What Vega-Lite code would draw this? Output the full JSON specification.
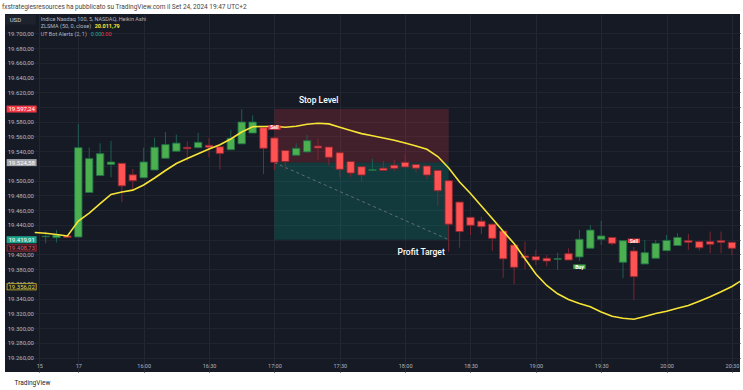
{
  "$schema": "https://vega.github.io/schema/vega-lite/v6.json",
  "width": 735,
  "height": 358,
  "autosize": {"type": "none"},
  "padding": {"left": 5, "top": 14, "right": 3, "bottom": 18},
  "background": "#ffffff",
  "view": {"fill": "#161a25", "stroke": null},
  "title": {"text": "fxstrategiesresources ha pubblicato su TradingView.com il Set 24, 2024 19:47 UTC+2", "anchor": "start", "frame": "group", "fontSize": 6.5, "font": "Roboto", "fontWeight": "normal", "color": "#444444", "offset": 3.5, "dx": -3},
  "config": {"font": "Roboto", "axis": {"labelOverlap": false, "labelSeparation": 0}, "axisY": {"labelOverlap": false}},
  "datasets": {
    "candles": [
      {"i":-3,"o":19424,"h":19431,"l":19415,"c":19424.6,"dir":"up"},
      {"i":-2,"o":19422.7,"h":19433,"l":19416,"c":19426.3,"dir":"up"},
      {"i":-1,"o":19425,"h":19425.5,"l":19422.5,"c":19423,"dir":"down"},
      {"i":0,"o":19423.6,"h":19577,"l":19423,"c":19544.8,"dir":"up"},
      {"i":1,"o":19484,"h":19545,"l":19484,"c":19530,"dir":"up"},
      {"i":2,"o":19507,"h":19550.7,"l":19507,"c":19536.7,"dir":"up"},
      {"i":3,"o":19522,"h":19554,"l":19504.6,"c":19525.4,"dir":"up"},
      {"i":4,"o":19523.6,"h":19523.6,"l":19470.7,"c":19493,"dir":"down"},
      {"i":5,"o":19508,"h":19516,"l":19488,"c":19500,"dir":"down"},
      {"i":6,"o":19504,"h":19544.8,"l":19504,"c":19525.4,"dir":"up"},
      {"i":7,"o":19514.5,"h":19558.3,"l":19514.5,"c":19545.3,"dir":"up"},
      {"i":8,"o":19530.4,"h":19566,"l":19530.4,"c":19549,"dir":"up"},
      {"i":9,"o":19540,"h":19562.5,"l":19540,"c":19551,"dir":"up"},
      {"i":10,"o":19545.3,"h":19553.5,"l":19526.7,"c":19543.4,"dir":"down"},
      {"i":11,"o":19544.8,"h":19565,"l":19544.8,"c":19552,"dir":"up"},
      {"i":12,"o":19548,"h":19558,"l":19531.7,"c":19545.3,"dir":"down"},
      {"i":13,"o":19546,"h":19546,"l":19515.5,"c":19537,"dir":"down"},
      {"i":14,"o":19542,"h":19569,"l":19542,"c":19557.5,"dir":"up"},
      {"i":15,"o":19550,"h":19597,"l":19550,"c":19579.6,"dir":"up"},
      {"i":16,"o":19564.7,"h":19588.7,"l":19564.7,"c":19579.6,"dir":"up"},
      {"i":17,"o":19572,"h":19573,"l":19509,"c":19544,"dir":"down"},
      {"i":18,"o":19558,"h":19560,"l":19514.5,"c":19525,"dir":"down"},
      {"i":19,"o":19541,"h":19541,"l":19514.5,"c":19526,"dir":"down"},
      {"i":20,"o":19534.5,"h":19551,"l":19534.5,"c":19544,"dir":"up"},
      {"i":21,"o":19539,"h":19562,"l":19539,"c":19554.3,"dir":"up"},
      {"i":22,"o":19547,"h":19557.5,"l":19528,"c":19544.4,"dir":"down"},
      {"i":23,"o":19545.7,"h":19545.7,"l":19521.3,"c":19531.7,"dir":"down"},
      {"i":24,"o":19538,"h":19538,"l":19504.6,"c":19515.5,"dir":"down"},
      {"i":25,"o":19526,"h":19526,"l":19505.4,"c":19510.4,"dir":"down"},
      {"i":26,"o":19519,"h":19519,"l":19498.6,"c":19507.7,"dir":"down"},
      {"i":27,"o":19514,"h":19529.5,"l":19513,"c":19515,"dir":"up"},
      {"i":28,"o":19517,"h":19526.7,"l":19514,"c":19514,"dir":"down"},
      {"i":29,"o":19521,"h":19528,"l":19513,"c":19516.8,"dir":"down"},
      {"i":30,"o":19525,"h":19536,"l":19518.6,"c":19518.6,"dir":"down"},
      {"i":31,"o":19522,"h":19522,"l":19511.4,"c":19517,"dir":"down"},
      {"i":32,"o":19520,"h":19520,"l":19502,"c":19507.7,"dir":"down"},
      {"i":33,"o":19514,"h":19514,"l":19466,"c":19486.4,"dir":"down"},
      {"i":34,"o":19500,"h":19500,"l":19403.7,"c":19441,"dir":"down"},
      {"i":35,"o":19471,"h":19471,"l":19409,"c":19431,"dir":"down"},
      {"i":36,"o":19450.3,"h":19450.3,"l":19426.3,"c":19439.5,"dir":"down"},
      {"i":37,"o":19445,"h":19451,"l":19427.7,"c":19437.6,"dir":"down"},
      {"i":38,"o":19441,"h":19441,"l":19405,"c":19421.8,"dir":"down"},
      {"i":39,"o":19431.7,"h":19431.7,"l":19368.4,"c":19394,"dir":"down"},
      {"i":40,"o":19412.7,"h":19412.7,"l":19359.4,"c":19382.5,"dir":"down"},
      {"i":41,"o":19397.8,"h":19417.3,"l":19379.8,"c":19395.5,"dir":"down"},
      {"i":42,"o":19397,"h":19406,"l":19385.6,"c":19392.4,"dir":"down"},
      {"i":43,"o":19394.7,"h":19399,"l":19384,"c":19391,"dir":"down"},
      {"i":44,"o":19393.4,"h":19402.3,"l":19379,"c":19394.2,"dir":"up"},
      {"i":45,"o":19401,"h":19408.3,"l":19392.4,"c":19392.4,"dir":"down"},
      {"i":46,"o":19396.5,"h":19433,"l":19391,"c":19420.5,"dir":"up"},
      {"i":47,"o":19408.3,"h":19440,"l":19408.3,"c":19433,"dir":"up"},
      {"i":48,"o":19420.5,"h":19445.3,"l":19412.7,"c":19425,"dir":"up"},
      {"i":49,"o":19423,"h":19423,"l":19412,"c":19415,"dir":"down"},
      {"i":50,"o":19389.3,"h":19418.6,"l":19367.6,"c":19418.6,"dir":"up"},
      {"i":51,"o":19404.6,"h":19410,"l":19338,"c":19369.8,"dir":"down"},
      {"i":52,"o":19387,"h":19419.6,"l":19387,"c":19402.3,"dir":"up"},
      {"i":53,"o":19394.7,"h":19419.6,"l":19394.7,"c":19415,"dir":"up"},
      {"i":54,"o":19405,"h":19426.3,"l":19405,"c":19419,"dir":"up"},
      {"i":55,"o":19412,"h":19428.6,"l":19412,"c":19423,"dir":"up"},
      {"i":56,"o":19418.6,"h":19427.7,"l":19406,"c":19416.4,"dir":"down"},
      {"i":57,"o":19417.3,"h":19417.3,"l":19405,"c":19409,"dir":"down"},
      {"i":58,"o":19417.3,"h":19431,"l":19401.5,"c":19413.8,"dir":"down"},
      {"i":59,"o":19418.6,"h":19431,"l":19401.5,"c":19416.4,"dir":"down"},
      {"i":60,"o":19416.4,"h":19416.4,"l":19399,"c":19408.3,"dir":"down"}
    ],
    "zlsma": [
      {"i":-4,"v":19429.7},{"i":-3,"v":19428.6},{"i":-2,"v":19427.0},{"i":-1,"v":19425.0},
      {"i":0,"v":19445.3},{"i":1,"v":19455.9},{"i":2,"v":19468.8},{"i":3,"v":19481.3},
      {"i":4,"v":19484.7},{"i":5,"v":19487.2},{"i":6,"v":19494.2},{"i":7,"v":19503.7},
      {"i":8,"v":19513.8},{"i":9,"v":19523.3},{"i":10,"v":19530.1},{"i":11,"v":19536.6},
      {"i":12,"v":19543.0},{"i":13,"v":19548.8},{"i":14,"v":19556.6},{"i":15,"v":19566.1},
      {"i":16,"v":19573.3},{"i":17,"v":19573.5},{"i":18,"v":19573.9},{"i":19,"v":19572.5},
      {"i":20,"v":19573.8},{"i":21,"v":19576.5},{"i":22,"v":19577.9},{"i":23,"v":19577.1},
      {"i":24,"v":19572.6},{"i":25,"v":19568.1},{"i":26,"v":19563.9},{"i":27,"v":19560.9},
      {"i":28,"v":19557.9},{"i":29,"v":19554.9},{"i":30,"v":19551.1},{"i":31,"v":19547.1},
      {"i":32,"v":19542.6},{"i":33,"v":19532.8},{"i":34,"v":19517.2},{"i":35,"v":19498.2},
      {"i":36,"v":19482.6},{"i":37,"v":19465.7},{"i":38,"v":19448.7},{"i":39,"v":19431.3},
      {"i":40,"v":19414.8},{"i":41,"v":19394.0},{"i":42,"v":19373.4},{"i":43,"v":19357.8},
      {"i":44,"v":19346.5},{"i":45,"v":19338.8},{"i":46,"v":19333.4},{"i":47,"v":19328.9},
      {"i":48,"v":19321.8},{"i":49,"v":19316.0},{"i":50,"v":19313.3},{"i":51,"v":19311.9},
      {"i":52,"v":19315.7},{"i":53,"v":19319.8},{"i":54,"v":19322.8},{"i":55,"v":19326.9},
      {"i":56,"v":19330.6},{"i":57,"v":19336.4},{"i":58,"v":19342.5},{"i":59,"v":19349.2},
      {"i":60,"v":19356.4},{"i":61,"v":19365.9}
    ],
    "trade": [
      {"start": 18, "end": 34, "stop": 19597.24, "entry": 19524.58, "target": 19419.91}
    ],
    "signals": [
      {"i": 18, "price": 19572.2, "signal": "Sell"},
      {"i": 51, "price": 19418.4, "signal": "Sell"},
      {"i": 46, "price": 19383.3, "signal": "Buy"}
    ],
    "tags": [
      {"price": 19597.24, "label": "19.597,24", "kind": "stop"},
      {"price": 19524.58, "label": "19.524,58", "kind": "entry"},
      {"price": 19419.91, "label": "19.419,91", "kind": "last"},
      {"price": 19408.73, "label": "19.408,73", "kind": "close"},
      {"price": 19356.02, "label": "19.356,02", "kind": "zlsma"}
    ]
  },
  "layer": [
    {
      "data": {"name": "trade"},
      "mark": {"type": "rect", "fill": "#f23645", "opacity": 0.2},
      "encoding": {
        "x": {"field": "start", "type": "quantitative",
          "scale": {"domain": [-6.73, 60.74], "nice": false, "zero": false, "padding": 0},
          "axis": {"title": "TradingView", "titleAnchor": "start", "titleAlign": "left", "titleBaseline": "middle", "titleX": 9, "titleY": 20, "titleFontSize": 6.5, "titleFontWeight": "normal", "titleColor": "#222222", "titleFont": "Roboto",
            "offset": -10, "domain": false, "ticks": false, "labelPadding": 1, "labelFontSize": 5.5, "labelColor": "#b2b5be", "labelFont": "Roboto", "labelOverlap": false,
            "grid": true, "gridColor": "#232734", "gridWidth": 1,
            "values": [-3.58, 0, 6, 12, 18, 24, 30, 36, 42, 48, 54, 60],
            "labelExpr": "datum.value < -1 ? '15' : datum.value == 0 ? '17' : floor((930 + datum.value * 5) / 60) + ':' + (((930 + datum.value * 5) % 60) == 0 ? '00' : '30')"}},
        "x2": {"field": "end"},
        "y": {"field": "stop", "type": "quantitative",
          "scale": {"domain": [19240.4, 19726.2], "nice": false, "zero": false, "padding": 0},
          "axis": {"title": null, "offset": -32, "domain": false, "ticks": false, "labelPadding": 3.5, "labelFontSize": 6, "labelColor": "#b2b5be", "labelFont": "Roboto", "labelOverlap": false, "labelSeparation": 0, "labelBound": false, "tickCount": 30,
            "grid": true, "gridColor": "#20242f", "gridWidth": 1,
            "values": [19260, 19280, 19300, 19320, 19340, 19360, 19380, 19400, 19420, 19440, 19460, 19480, 19500, 19520, 19540, 19560, 19580, 19600, 19620, 19640, 19660, 19680, 19700],
            "labelExpr": "(datum.value == 19520 || datum.value == 19420) ? '' : replace(replace(replace(format(datum.value, ',.2f'), ',', '_'), '.', ','), '_', '.')"}},
        "y2": {"field": "entry"}
      }
    },
    {
      "data": {"name": "trade"},
      "mark": {"type": "rect", "fill": "#089981", "opacity": 0.25},
      "encoding": {
        "x": {"field": "start", "type": "quantitative"},
        "x2": {"field": "end"},
        "y": {"field": "entry", "type": "quantitative"},
        "y2": {"field": "target"}
      }
    },
    {
      "data": {"name": "trade"},
      "mark": {"type": "rule", "color": "#7f8590", "strokeDash": [3, 3], "strokeWidth": 1, "opacity": 0.7},
      "encoding": {
        "x": {"field": "start", "type": "quantitative"},
        "x2": {"field": "end"},
        "y": {"field": "entry", "type": "quantitative"},
        "y2": {"field": "target"}
      }
    },
    {
      "data": {"name": "candles"},
      "mark": {"type": "rule", "strokeWidth": 1, "clip": true},
      "encoding": {
        "x": {"field": "i", "type": "quantitative"},
        "y": {"field": "l", "type": "quantitative"},
        "y2": {"field": "h"},
        "color": {"condition": {"test": "datum.dir === 'up'", "value": "#1d5e50"}, "value": "#7e2633"}
      }
    },
    {
      "data": {"name": "candles"},
      "mark": {"type": "bar", "size": 7.4, "strokeWidth": 0.9, "clip": true},
      "encoding": {
        "x": {"field": "i", "type": "quantitative"},
        "y": {"field": "o", "type": "quantitative"},
        "y2": {"field": "c"},
        "fill": {"condition": {"test": "datum.dir === 'up'", "value": "#4caf50"}, "value": "#ff5252"},
        "stroke": {"condition": {"test": "datum.dir === 'up'", "value": "#1f6f45"}, "value": "#8e2631"}
      }
    },
    {
      "data": {"name": "zlsma"},
      "mark": {"type": "line", "color": "#f7e536", "strokeWidth": 1.6, "clip": true},
      "encoding": {
        "x": {"field": "i", "type": "quantitative"},
        "y": {"field": "v", "type": "quantitative"}
      }
    },
    {
      "data": {"name": "signals"},
      "mark": {"type": "point", "shape": "M-1,-0.36H1V0.36H-1Z", "size": 150, "filled": true, "opacity": 1, "strokeWidth": 0},
      "encoding": {
        "x": {"field": "i", "type": "quantitative"},
        "y": {"field": "price", "type": "quantitative"},
        "color": {"condition": {"test": "datum.signal === 'Buy'", "value": "#4caf50"}, "value": "#f23645"}
      }
    },
    {
      "data": {"name": "signals"},
      "mark": {"type": "text", "fontSize": 5, "fontWeight": "bold", "color": "#ffffff", "baseline": "middle", "align": "center"},
      "encoding": {
        "x": {"field": "i", "type": "quantitative"},
        "y": {"field": "price", "type": "quantitative"},
        "text": {"field": "signal"}
      }
    },
    {
      "data": {"name": "tags"},
      "mark": {"type": "rule", "strokeWidth": 7, "strokeCap": "butt"},
      "encoding": {
        "x": {"datum": -6.58},
        "x2": {"datum": -3.83},
        "y": {"field": "price", "type": "quantitative"},
        "color": {"condition": [
          {"test": "datum.kind === 'stop'", "value": "#f23645"},
          {"test": "datum.kind === 'entry'", "value": "#a3a6ae"},
          {"test": "datum.kind === 'last'", "value": "#1fa38c"},
          {"test": "datum.kind === 'close'", "value": "#b82a35"}
        ], "value": "#cdbd2c"}
      }
    },
    {
      "data": {"name": "tags"},
      "transform": [{"filter": "datum.kind === 'close' || datum.kind === 'zlsma'"}],
      "mark": {"type": "rule", "strokeWidth": 5.4, "strokeCap": "butt", "color": "#161a25"},
      "encoding": {
        "x": {"datum": -6.5},
        "x2": {"datum": -3.91},
        "y": {"field": "price", "type": "quantitative"}
      }
    },
    {
      "data": {"name": "tags"},
      "mark": {"type": "text", "fontSize": 6, "align": "center", "baseline": "middle"},
      "encoding": {
        "x": {"datum": -5.2},
        "y": {"field": "price", "type": "quantitative"},
        "text": {"field": "label"},
        "color": {"condition": [
          {"test": "datum.kind === 'close'", "value": "#f0525d"},
          {"test": "datum.kind === 'zlsma'", "value": "#e8d84a"}
        ], "value": "#ffffff"}
      }
    },
    {
      "data": {"values": [{}]},
      "mark": {"type": "rule", "strokeWidth": 10, "strokeCap": "butt", "color": "#1e222d"},
      "encoding": {"x": {"datum": -6.73}, "x2": {"datum": -3.9}, "y": {"datum": 19718.5}}
    },
    {
      "data": {"values": [{}]},
      "mark": {"type": "text", "text": "USD", "fontSize": 6, "color": "#d1d4dc", "align": "left", "baseline": "middle"},
      "encoding": {"x": {"datum": -6.3}, "y": {"datum": 19718.5}}
    },
    {
      "data": {"values": [{}]},
      "mark": {"type": "text", "text": "Indice Nasdaq 100, 5, NASDAQ, Heikin Ashi", "fontSize": 5.5, "color": "#b2b5be", "align": "left", "baseline": "middle"},
      "encoding": {"x": {"datum": -3.45}, "y": {"datum": 19719.4}}
    },
    {
      "data": {"values": [{}]},
      "mark": {"type": "text", "text": "ZLSMA (50, 0, close)", "fontSize": 5.5, "color": "#b2b5be", "align": "left", "baseline": "middle"},
      "encoding": {"x": {"datum": -3.45}, "y": {"datum": 19710.3}}
    },
    {
      "data": {"values": [{}]},
      "mark": {"type": "text", "text": "20.011,79", "fontSize": 5.5, "fontWeight": "bold", "color": "#f7e536", "align": "left", "baseline": "middle"},
      "encoding": {"x": {"datum": 1.5}, "y": {"datum": 19710.3}}
    },
    {
      "data": {"values": [{}]},
      "mark": {"type": "text", "text": "UT Bot Alerts (2, 1)", "fontSize": 5.5, "color": "#b2b5be", "align": "left", "baseline": "middle"},
      "encoding": {"x": {"datum": -3.45}, "y": {"datum": 19699.5}}
    },
    {
      "data": {"values": [{}]},
      "mark": {"type": "text", "text": "0.00", "fontSize": 5.5, "color": "#22ab94", "align": "left", "baseline": "middle"},
      "encoding": {"x": {"datum": 1.14}, "y": {"datum": 19699.5}}
    },
    {
      "data": {"values": [{}]},
      "mark": {"type": "text", "text": "0.00", "fontSize": 5.5, "color": "#f23645", "align": "left", "baseline": "middle"},
      "encoding": {"x": {"datum": 2.06}, "y": {"datum": 19699.5}}
    },
    {
      "data": {"values": [{}]},
      "mark": {"type": "text", "text": "Stop Level", "fontSize": 8.5, "fontWeight": 500, "color": "#ffffff", "align": "center", "baseline": "middle"},
      "encoding": {"x": {"datum": 22.07}, "y": {"datum": 19609.5}}
    },
    {
      "data": {"values": [{}]},
      "mark": {"type": "text", "text": "Profit Target", "fontSize": 8.5, "fontWeight": 500, "color": "#ffffff", "align": "center", "baseline": "middle"},
      "encoding": {"x": {"datum": 31.47}, "y": {"datum": 19402.8}}
    }
  ]
}
